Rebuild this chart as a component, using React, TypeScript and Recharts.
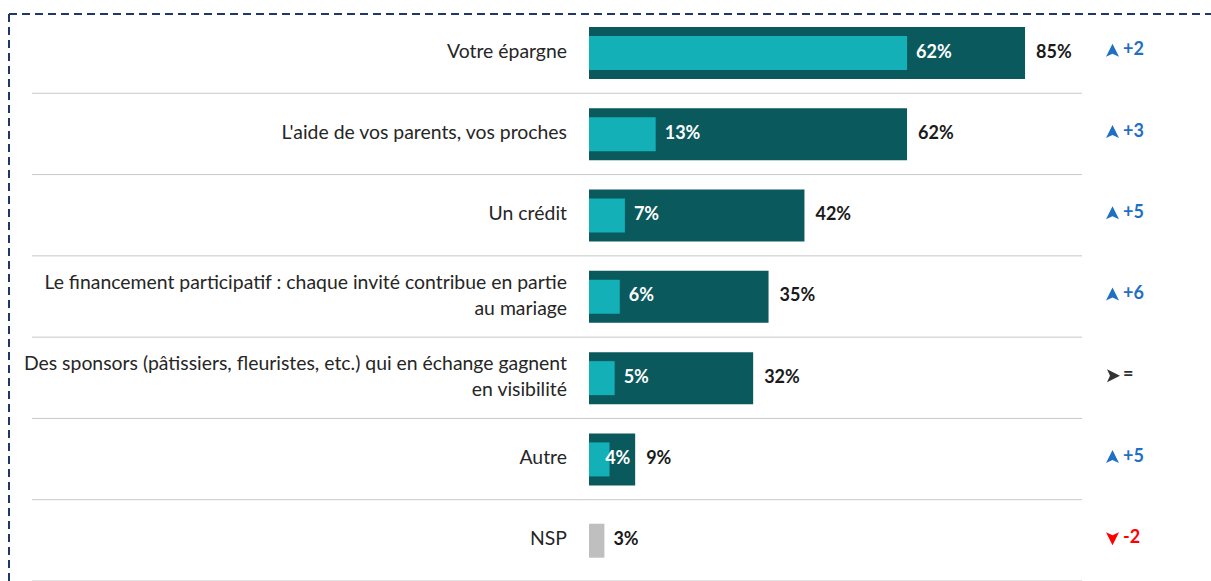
import { BarChart, Bar, XAxis, YAxis, LabelList, Cell } from 'recharts'

const categories = [
  'Votre épargne',
  "L'aide de vos parents, vos proches",
  'Un crédit',
  'Le financement participatif : chaque invité contribue en partie\nau mariage',
  'Des sponsors (pâtissiers, fleuristes, etc.) qui en échange gagnent\nen visibilité',
  'Autre',
  'NSP',
]
const totals = [85, 62, 42, 35, 32, 9, null]
const firstChoice = [62, 13, 7, 6, 5, 4, 3]
const changes = ['+2', '+3', '+5', '+6', '=', '+5', '-2']

const W = 1211
const H = 581
const TOP = 12
const BAND = (H - TOP) / categories.length
const FONT = 'Lato, "Open Sans", sans-serif'

const DARK = '#0a595d'
const LIGHT = '#13b0b7'
const GREY = '#bfbfbf'
const BLUE = '#1f6fc4'
const RED = '#ff0000'

const data = categories.map((name, i) => ({
  name,
  total: totals[i],
  first: firstChoice[i],
  change: changes[i],
}))

// eslint-disable-next-line @typescript-eslint/no-explicit-any
function CategoryTick({ x, y, payload }: any) {
  const lines = String(payload.value).split('\n')
  const lh = 26
  const y0 = y - ((lines.length - 1) * lh) / 2
  return (
    <g>
      <text x={x - 22} y={y0} textAnchor="end" dominantBaseline="middle"
        fontFamily={FONT} fontSize={19.4} fill="#262626">
        {lines.map((l, i) => (
          <tspan key={i} x={x - 22} y={y0 + i * lh}>{l}</tspan>
        ))}
      </text>
      <line x1={32} x2={1082} y1={y + BAND / 2} y2={y + BAND / 2} stroke="#c8c8c8" strokeWidth={1} />
    </g>
  )
}

// eslint-disable-next-line @typescript-eslint/no-explicit-any
function ChangeTick({ x, y, payload }: any) {
  const idx = categories.indexOf(payload.value)
  const c = changes[idx]
  const cy = y - 2
  const ax = x + 4
  let color = BLUE
  let arrow = `M${ax},${cy + 6} L${ax + 6.5},${cy - 7} L${ax + 13},${cy + 6} L${ax + 6.5},${cy + 3} Z`
  if (c === '=') {
    color = '#333333'
    arrow = `M${ax + 1},${cy - 6.5} L${ax + 14},${cy} L${ax + 1},${cy + 6.5} L${ax + 4},${cy} Z`
  } else if (c.startsWith('-')) {
    color = RED
    arrow = `M${ax},${cy - 6} L${ax + 6.5},${cy + 7} L${ax + 13},${cy - 6} L${ax + 6.5},${cy - 3} Z`
  }
  return (
    <g>
      <path d={arrow} fill={color} />
      <text x={ax + 17} y={cy} dominantBaseline="middle" fontFamily={FONT}
        fontSize={18} fontWeight={700} fill={color}>{c}</text>
    </g>
  )
}

// eslint-disable-next-line @typescript-eslint/no-explicit-any
function FirstLabel({ x, y, width, height, value, index }: any) {
  const total = totals[index]
  const end = x + width
  if (total == null) {
    return (
      <text x={end + 9} y={y + height / 2} dominantBaseline="middle" fontFamily={FONT}
        fontSize={18} fontWeight={700} fill="#1a1a1a">{value}%</text>
    )
  }
  const darkEnd = x + (width * total) / value
  const lx = Math.min(end + 9, darkEnd - 30)
  return (
    <text x={lx} y={y + height / 2} dominantBaseline="middle" fontFamily={FONT}
      fontSize={18} fontWeight={700} fill="#ffffff">{value}%</text>
  )
}

// eslint-disable-next-line @typescript-eslint/no-explicit-any
function TotalLabel({ x, y, width, height, value }: any) {
  if (value == null) return null
  return (
    <text x={x + width + 11} y={y + height / 2} dominantBaseline="middle" fontFamily={FONT}
      fontSize={18} fontWeight={700} fill="#1a1a1a">{value}%</text>
  )
}

export default function App() {
  return (
    <div style={{ position: 'absolute', left: 0, top: 0, width: W, height: H, background: '#fff' }}>
      <BarChart width={W} height={H} data={data} layout="vertical"
        margin={{ top: TOP, right: 0, bottom: 0, left: 0 }}>
        <XAxis type="number" domain={[0, 100]} hide />
        <YAxis yAxisId="main" type="category" dataKey="name" width={589}
          axisLine={false} tickLine={false} tickSize={0} tickMargin={0}
          interval={0} tick={<CategoryTick />} />
        <YAxis yAxisId="inner" type="category" dataKey="name" orientation="right" width={109}
          axisLine={false} tickLine={false} tickSize={0} tickMargin={0}
          interval={0} tick={<ChangeTick />} />
        <Bar yAxisId="main" dataKey="total" fill={DARK} barSize={52} isAnimationActive={false}>
          <LabelList dataKey="total" content={<TotalLabel />} />
        </Bar>
        <Bar yAxisId="inner" dataKey="first" fill={LIGHT} barSize={34} isAnimationActive={false}>
          {data.map((d, i) => (
            <Cell key={i} fill={d.total == null ? GREY : LIGHT} />
          ))}
          <LabelList dataKey="first" content={<FirstLabel />} />
        </Bar>
      </BarChart>
      <svg width={W} height={H} style={{ position: 'absolute', left: 0, top: 0, pointerEvents: 'none' }}>
        <line x1={9} x2={W} y1={14} y2={14} stroke="#1f3864" strokeWidth={2} strokeDasharray="8 5" />
        <line x1={9} x2={9} y1={14} y2={H} stroke="#1f3864" strokeWidth={2} strokeDasharray="8 5" />
      </svg>
    </div>
  )
}
